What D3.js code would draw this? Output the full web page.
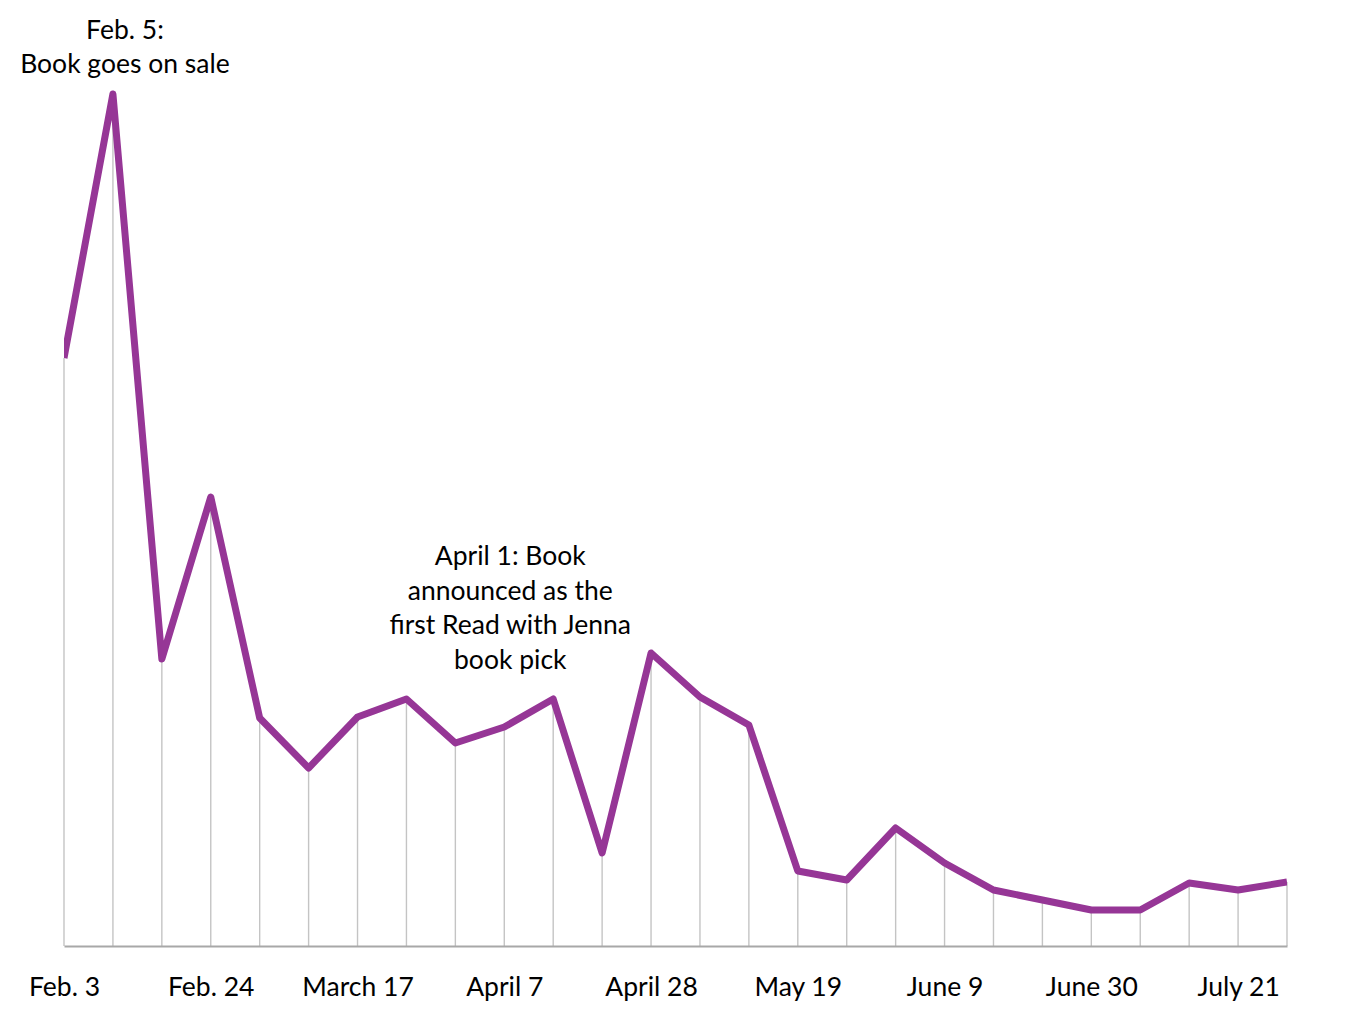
<!DOCTYPE html>
<html>
<head>
<meta charset="utf-8">
<script src="https://cdn.jsdelivr.net/npm/d3@7"></script>
<style>
  body { margin: 0; background: #fff; }
  text { font-family: Lato, "Open Sans", sans-serif; fill: #000; }
</style>
</head>
<body>
<div id="chart"></div>
<script>
// weekly sales, week starting
let weeks = ['Feb. 3', 'Feb. 10', 'Feb. 17', 'Feb. 24', 'March 3', 'March 10', 'March 17',
  'March 24', 'March 31', 'April 7', 'April 14', 'April 21', 'April 28', 'May 5', 'May 12',
  'May 19', 'May 26', 'June 2', 'June 9', 'June 16', 'June 23', 'June 30', 'July 7',
  'July 14', 'July 21', 'July 28']

let sales = [588, 852, 287, 449, 228, 178, 229, 247, 203, 219, 247, 93, 293, 249, 221,
  75, 66, 118, 83, 56, 46, 36, 36, 63, 56, 64]

let tickLabels = ['Feb. 3', 'Feb. 24', 'March 17', 'April 7', 'April 28', 'May 19',
  'June 9', 'June 30', 'July 21']

let saleNote = ['Feb. 5:', 'Book goes on sale']
let jennaNote = ['April 1: Book', 'announced as the', 'first Read with Jenna', 'book pick']

let data = weeks.map((w, i) => ({ week: w, value: sales[i] }))

let margin = { top: 46, left: 64, right: 68, bottom: 70 }
let width = 1355 - margin.left - margin.right
let height = 1016 - margin.top - margin.bottom

let svg = d3
  .select('#chart')
  .append('svg')
  .attr('width', 1355)
  .attr('height', 1016)
  .append('g')
  .attr('transform', 'translate(' + margin.left + ',' + margin.top + ')')

let x = d3.scalePoint().domain(weeks).range([0, width])
let y = d3.scaleLinear().domain([0, 900]).range([height, 0])

svg.append('clipPath')
  .attr('id', 'plot-clip')
  .append('rect')
  .attr('x', 0)
  .attr('y', -margin.top)
  .attr('width', width)
  .attr('height', height + margin.top)

// drop lines
svg.selectAll('.drop')
  .data(data)
  .enter()
  .append('line')
  .attr('class', 'drop')
  .attr('x1', d => x(d.week))
  .attr('x2', d => x(d.week))
  .attr('y1', d => y(d.value))
  .attr('y2', height)
  .attr('stroke', '#c4c4c4')
  .attr('stroke-width', 1.4)

// axis
let xAxis = d3.axisBottom(x)
  .tickValues(tickLabels)
  .tickSize(0)
  .tickPadding(31)

let axisG = svg.append('g')
  .attr('transform', 'translate(0,' + height + ')')
  .call(xAxis)

axisG.select('.domain')
  .attr('stroke', '#a8a8a8')
  .attr('stroke-width', 2)
axisG.selectAll('text')
  .attr('font-size', '26.5px')
  .attr('font-family', 'Lato, sans-serif')
  .attr('fill', '#000')

let line = d3.line()
  .x(d => x(d.week))
  .y(d => y(d.value))

svg.append('path')
  .datum(data)
  .attr('d', line)
  .attr('clip-path', 'url(#plot-clip)')
  .attr('fill', 'none')
  .attr('stroke', '#963696')
  .attr('stroke-width', 7)
  .attr('stroke-linejoin', 'round')

// annotations
function note(lines, cx, firstBaseline, lh) {
  svg.append('text')
    .attr('text-anchor', 'middle')
    .attr('font-size', '26.5px')
    .selectAll('tspan')
    .data(lines)
    .enter()
    .append('tspan')
    .attr('x', cx)
    .attr('y', (d, i) => firstBaseline + i * lh)
    .text(d => d)
}

note(saleNote, x('Feb. 10') + 12, y(852) - 55, 34)
note(jennaNote, x('April 7') + 6, y(247) - 134, 34.5)
</script>
</body>
</html>
